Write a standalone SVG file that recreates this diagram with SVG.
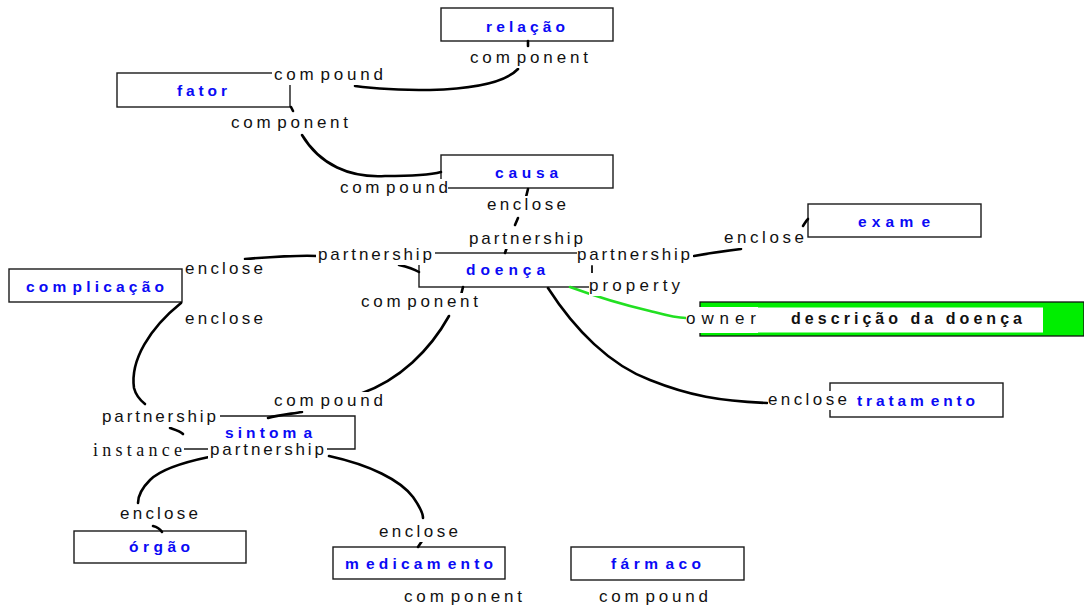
<svg xmlns="http://www.w3.org/2000/svg" width="1084" height="608" viewBox="0 0 1084 608">
  <style>
    .box { fill: #fff; stroke: #1a1a1a; stroke-width: 1.4; }
    .name { font-family: "Liberation Sans", Arial, sans-serif; font-weight: bold; font-size: 15.5px; fill: #0a0af5; }
    .rel { font-family: "Liberation Sans", Arial, sans-serif; font-size: 17px; fill: #111; }
    .inst { font-family: "Liberation Serif", "Times New Roman", serif; font-size: 18px; fill: #111; }
    .bg { fill: #fff; }
    .link { fill: none; stroke: #000; stroke-width: 2.6; stroke-linecap: round; }
    .thin { fill: none; stroke: #000; stroke-width: 1.2; }
    .attr { fill: none; stroke: #22e022; stroke-width: 2.6; stroke-linecap: round; }
  </style>

  <rect width="1084" height="608" fill="#fff"/>

  <!-- concept nodes -->
  <g id="relacao">
    <rect class="box" x="441" y="8" width="172" height="33"/>
    <text class="name" x="486" y="31.5" textLength="79" lengthAdjust="spacing">relação</text>
  </g>
  <g id="fator">
    <rect class="box" x="117" y="73" width="173" height="34"/>
    <text class="name" x="177" y="96" textLength="50" lengthAdjust="spacing">fator</text>
  </g>
  <g id="causa">
    <rect class="box" x="441" y="155" width="172" height="33"/>
    <text class="name" x="495" y="178" textLength="63" lengthAdjust="spacing">causa</text>
  </g>
  <g id="exame">
    <rect class="box" x="808" y="204" width="173" height="33"/>
    <text class="name" x="858" y="227" textLength="72" lengthAdjust="spacing">exam<tspan dx="3">e</tspan></text>
  </g>
  <g id="complicacao">
    <rect class="box" x="9" y="269" width="173" height="33"/>
    <text class="name" x="26" y="292" textLength="138" lengthAdjust="spacing">com<tspan dx="2">plicação</tspan></text>
  </g>
  <g id="doenca">
    <rect class="box" x="419" y="253" width="173" height="34"/>
    <text class="name" x="466" y="275" textLength="79" lengthAdjust="spacing">doença</text>
  </g>
  <g id="descricao">
    <rect x="700" y="302" width="384" height="34" fill="#00ee00" stroke="#111" stroke-width="1.3"/>
    <rect x="757" y="307.5" width="286" height="25" fill="#fff"/>
    <text x="791" y="324" font-family="'Liberation Sans', Arial, sans-serif" font-weight="bold" font-size="16" fill="#111" textLength="231" lengthAdjust="spacing">descrição da doença</text>
  </g>
  <g id="tratamento">
    <rect class="box" x="830" y="383" width="173" height="34"/>
    <text class="name" x="857" y="406" textLength="118" lengthAdjust="spacing">tratam<tspan dx="3">ento</tspan></text>
  </g>
  <g id="sintoma">
    <path class="box" d="M183,416 H355 V449 H183"/>
    <text class="name" x="225" y="438" textLength="87" lengthAdjust="spacing">sintom<tspan dx="3">a</tspan></text>
  </g>
  <g id="orgao">
    <rect class="box" x="74" y="531" width="172" height="32"/>
    <text class="name" x="129" y="552" textLength="61" lengthAdjust="spacing">órgão</text>
  </g>
  <g id="medicamento">
    <rect class="box" x="333" y="547" width="172" height="32"/>
    <text class="name" x="345" y="569" textLength="148" lengthAdjust="spacing">m<tspan dx="3">edicam</tspan><tspan dx="3">ento</tspan></text>
  </g>
  <g id="farmaco">
    <rect class="box" x="571" y="547" width="173" height="33"/>
    <text class="name" x="611" y="569" textLength="90" lengthAdjust="spacing">fárm<tspan dx="3">aco</tspan></text>
  </g>

  <!-- connectors -->
  <g id="connectors">
    <path class="link" d="M528,41 L528,46"/>
    <path class="link" d="M518,69 Q500,88 430,90 Q385,90 355,86"/>
    <path class="link" d="M291,107 L293,111"/>
    <path class="link" d="M302,135 C320,165 350,178 385,176 C410,176 430,175 441,172"/>
    <path class="link" d="M528,189 L526,197"/>
    <path class="link" d="M518,218 L515,225"/>
    <path class="link" d="M507,247 L505,253"/>
    <path class="link" d="M245,259 C270,257 295,255 317,256"/>
    <path class="link" d="M399,265 C408,267 414,269 419,272"/>
    <path class="link" d="M694,256 C710,253 725,251 741,249"/>
    <path class="link" d="M803,226 C805,223 806,221 808,219"/>
    <path class="thin" d="M592,266 L592,273"/>
    <path class="attr" d="M570,287 C600,298 620,304 650,311 C665,315 675,318 686,318"/>
    <path class="link" d="M548,288 C575,330 610,365 650,380 C690,396 720,401 767,403"/>
    <path class="link" d="M463,287 L461,295"/>
    <path class="link" d="M449,316 C430,350 400,380 360,394"/>
    <path class="link" d="M302,412 C290,414 278,415 268,418"/>
    <path class="link" d="M181,303 C150,328 130,360 134,388 C136,396 140,400 145,404"/>
    <path class="link" d="M170,428 C176,430 180,431 183,434"/>
    <path class="link" d="M209,457 C180,463 160,470 150,480 C142,488 138,495 138,503"/>
    <path class="link" d="M153,526 C157,527 160,529 162,532"/>
    <path class="link" d="M329,456 C370,465 400,480 413,497 C420,507 423,513 423,518"/>
    <path class="link" d="M422,541 L418,547"/>

    <!-- relation labels with white backing -->
    <g id="labels">
      <rect class="bg" x="468" y="49" width="122" height="19"/>
      <text class="rel" x="470" y="63" textLength="118" lengthAdjust="spacing">com<tspan dx="3">ponent</tspan></text>
      <rect class="bg" x="272" y="66" width="113" height="19"/>
      <text class="rel" x="274" y="80" textLength="109" lengthAdjust="spacing">com<tspan dx="3">pound</tspan></text>
      <rect class="bg" x="229" y="114" width="121" height="19"/>
      <text class="rel" x="231" y="128" textLength="117" lengthAdjust="spacing">com<tspan dx="3">ponent</tspan></text>
      <rect class="bg" x="338" y="179" width="110" height="19"/>
      <text class="rel" x="340" y="193" textLength="108" lengthAdjust="spacing">com<tspan dx="3">pound</tspan></text>
      <rect class="bg" x="485" y="196" width="83" height="19"/>
      <text class="rel" x="487" y="210" textLength="79" lengthAdjust="spacing">enclose</text>
      <rect class="bg" x="467" y="230" width="118" height="19"/>
      <text class="rel" x="469" y="244" textLength="114" lengthAdjust="spacing">partnership</text>
      <rect class="bg" x="316" y="246" width="119" height="19"/>
      <text class="rel" x="318" y="260" textLength="114" lengthAdjust="spacing">partnership</text>
      <rect class="bg" x="577" y="246" width="116" height="19"/>
      <text class="rel" x="577" y="260" textLength="113" lengthAdjust="spacing">partnership</text>
      <rect class="bg" x="722" y="229" width="84" height="19"/>
      <text class="rel" x="724" y="243" textLength="80" lengthAdjust="spacing">enclose</text>
      <rect class="bg" x="589" y="273" width="94" height="23"/>
      <text class="rel" x="589" y="291" textLength="91" lengthAdjust="spacing">property</text>
      <rect class="bg" x="686" y="307" width="72" height="26"/>
      <text class="rel" x="686" y="324" textLength="70" lengthAdjust="spacing">owner</text>
      <rect class="bg" x="359" y="293" width="121" height="19"/>
      <text class="rel" x="361" y="307" textLength="117" lengthAdjust="spacing">com<tspan dx="3">ponent</tspan></text>
      <rect class="bg" x="184" y="260" width="82" height="19"/>
      <text class="rel" x="185" y="274" textLength="78" lengthAdjust="spacing">enclose</text>
      <rect class="bg" x="183" y="310" width="82" height="19"/>
      <text class="rel" x="185" y="324" textLength="78" lengthAdjust="spacing">enclose</text>
      <rect class="bg" x="272" y="392" width="113" height="19"/>
      <text class="rel" x="274" y="406" textLength="109" lengthAdjust="spacing">com<tspan dx="3">pound</tspan></text>
      <rect class="bg" x="100" y="408" width="120" height="19"/>
      <text class="rel" x="102" y="422" textLength="114" lengthAdjust="spacing">partnership</text>
      <rect class="bg" x="91" y="440" width="93" height="21"/>
      <text class="inst" x="93" y="456" textLength="89" lengthAdjust="spacing">instance</text>
      <rect class="bg" x="208" y="441" width="119" height="19"/>
      <text class="rel" x="210" y="455" textLength="114" lengthAdjust="spacing">partnership</text>
      <rect class="bg" x="118" y="505" width="82" height="19"/>
      <text class="rel" x="120" y="519" textLength="78" lengthAdjust="spacing">enclose</text>
      <rect class="bg" x="377" y="523" width="83" height="19"/>
      <text class="rel" x="379" y="537" textLength="79" lengthAdjust="spacing">enclose</text>
      <rect class="bg" x="402" y="588" width="122" height="19"/>
      <text class="rel" x="404" y="602" textLength="118" lengthAdjust="spacing">com<tspan dx="3">ponent</tspan></text>
      <rect class="bg" x="597" y="588" width="113" height="19"/>
      <text class="rel" x="599" y="602" textLength="109" lengthAdjust="spacing">com<tspan dx="3">pound</tspan></text>
      <rect class="bg" x="768" y="391" width="81" height="19"/>
      <text class="rel" x="768" y="405" textLength="79" lengthAdjust="spacing">enclose</text>
    </g>
  </g>
</svg>
